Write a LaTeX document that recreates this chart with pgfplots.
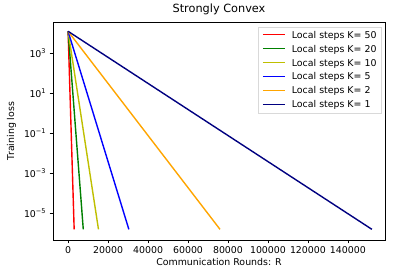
\documentclass[border=0pt]{standalone}
\usepackage{pgfplots}
\pgfplotsset{compat=1.18}
\usepackage{fontspec}
\setmainfont{DejaVu Sans}
\usetikzlibrary{calc}
\definecolor{mplgreen}{HTML}{008000}
\definecolor{mplyellow}{HTML}{BFBF00}
\definecolor{mplorange}{HTML}{FFA500}
\definecolor{mplnavy}{HTML}{000080}
\newcommand{\legline}[1]{\textcolor{#1}{\rule[2.8pt]{22pt}{1.4pt}}\hspace{7pt}}
\begin{document}
\begin{tikzpicture}
\begin{axis}[
  scale only axis,
  width=332pt, height=218pt,
  ymode=log,
  xmin=-7550, xmax=158550,
  ymin=4.7e-7, ymax=3.5e4,
  scaled x ticks=false,
  xtick={0,20000,40000,60000,80000,100000,120000,140000},
  xticklabels={0,20000,40000,60000,80000,100000,120000,140000},
  ytick={1e-5,1e-3,1e-1,1e1,1e3},
  yticklabels={10\textsuperscript{−5},10\textsuperscript{−3},10\textsuperscript{−1},10\textsuperscript{1},10\textsuperscript{3}},
  minor tick num=0,
  yminorticks=false,
  tick align=outside,
  tick pos=left,
  major tick length=3.3pt,
  every tick/.style={black, line width=0.75pt},
  axis line style={line width=0.75pt},
  ticklabel style={font=\fontsize{9.4}{11}\selectfont},
  title={Strongly Convex},
  title style={font=\fontsize{11.3}{13}\selectfont, yshift=-2pt},
  xlabel={Communication Rounds: R},
  ylabel={Training loss},
  label style={font=\fontsize{9.4}{11}\selectfont},
  xlabel style={yshift=2pt},
  ylabel style={yshift=1pt},
  legend style={at={(0.99,0.978)}, anchor=north east, draw=black!15,
    font=\fontsize{9.4}{11}\selectfont, row sep=1.3pt, inner xsep=3pt, inner ysep=2pt},
  legend cell align=left,
  legend image code/.code={},
]
\addplot[color=red, line width=1.4pt] coordinates {(0,1.2e4) (3040,1.6e-6)};
\addlegendentry{\legline{red}Local steps K= 50}
\addplot[color=mplgreen, line width=1.4pt] coordinates {(0,1.2e4) (7600,1.6e-6)};
\addlegendentry{\legline{mplgreen}Local steps K= 20}
\addplot[color=mplyellow, line width=1.4pt] coordinates {(0,1.2e4) (15200,1.6e-6)};
\addlegendentry{\legline{mplyellow}Local steps K= 10}
\addplot[color=blue, line width=1.4pt] coordinates {(0,1.2e4) (30400,1.6e-6)};
\addlegendentry{\legline{blue}Local steps K= 5}
\addplot[color=mplorange, line width=1.4pt] coordinates {(0,1.2e4) (76000,1.6e-6)};
\addlegendentry{\legline{mplorange}Local steps K= 2}
\addplot[color=mplnavy, line width=1.4pt] coordinates {(0,1.2e4) (152000,1.6e-6)};
\addlegendentry{\legline{mplnavy}Local steps K= 1}
\end{axis}
\pgfresetboundingbox
\path ($(current axis.south west)+(-53pt,-38pt)$) rectangle ($(current axis.north east)+(9pt,22pt)$);
\end{tikzpicture}
\end{document}
